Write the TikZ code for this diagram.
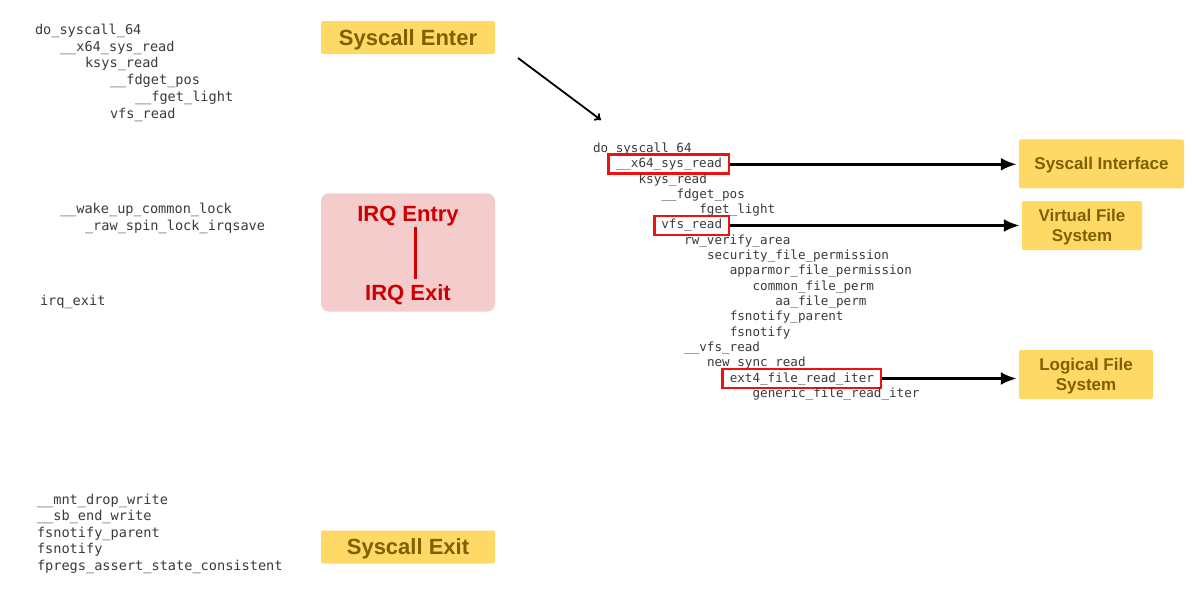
\documentclass[tikz,border=0pt]{standalone}
\usepackage{fontspec}
\setmainfont{Liberation Sans}
\newfontfamily\codefont{DejaVu Sans Mono}
\usepackage{xcolor}
\usetikzlibrary{shapes.geometric, arrows.meta, positioning}

\definecolor{codegray}{HTML}{3A3A3A}
\definecolor{boxyellow}{HTML}{FFD966}
\definecolor{boxbrown}{HTML}{7F6000}
\definecolor{irqpink}{HTML}{F4CCCC}
\definecolor{irqred}{HTML}{CC0000}
\definecolor{hlred}{HTML}{EE1111}

\tikzset{
	code/.style = {anchor=text, inner sep=0pt, text=codegray, font=\codefont\fontsize{13.6}{16}\selectfont},
	coderight/.style = {code, font=\codefont\fontsize{12.6}{15}\selectfont},
	hl/.style = {draw=hlred, line width=2.8pt, inner xsep=7pt, inner ysep=3.5pt, text height=9.5pt, text depth=2.5pt},
	phasebox/.style = {fill=boxyellow, text=boxbrown, font=\bfseries\fontsize{22}{26}\selectfont, minimum width=174pt, minimum height=33pt, rounded corners=2pt, inner sep=0pt, text depth=0pt},
	levelbox/.style = {fill=boxyellow, text=boxbrown, font=\bfseries\fontsize{17}{20}\selectfont, minimum height=49pt, rounded corners=2pt, inner sep=0pt, text depth=0pt, align=center},
	irqbox/.style = {fill=irqpink, minimum width=174pt, minimum height=118.3pt, rounded corners=8pt, inner sep=0pt},
	irqtext/.style = {anchor=base, text=irqred, font=\bfseries\fontsize{22}{26}\selectfont, inner sep=1pt},
	flow/.style = {line width=3pt, -{Latex[length=16pt,width=13pt]}, shorten >=2pt}
}

\begin{document}
\begin{tikzpicture}[x=1pt,y=-1pt]
	\useasboundingbox (0,0) rectangle (1192,591);
	
	% left: trace before the switch
	\node[code] (L1) at (35,34.3) {do\_syscall\_64};
	\node[code] (L2) at (60,51.1) {\_\_x64\_sys\_read};
	\node[code] (L3) at (85,67.9) {ksys\_read};
	\node[code] (L4) at (110,84.7) {\_\_fdget\_pos};
	\node[code] (L5) at (135,101.5) {\_\_fget\_light};
	\node[code] (L6) at (110,118.3) {vfs\_read};
	
	\node[code] (L7) at (60,213.3) {\_\_wake\_up\_common\_lock};
	\node[code] (L8) at (85,230) {\_raw\_spin\_lock\_irqsave};
	\node[code] (L9) at (40,305) {irq\_exit};
	
	\node[code] (L10) at (37,504) {\_\_mnt\_drop\_write};
	\node[code] (L11) at (37,520.5) {\_\_sb\_end\_write};
	\node[code] (L12) at (37,537) {fsnotify\_parent};
	\node[code] (L13) at (37,553.5) {fsnotify};
	\node[code] (L14) at (37,570) {fpregs\_assert\_state\_consistent};
	
	% left: phases
	\node[phasebox] (enter) at (408,37.7) {Syscall Enter};
	\node[irqbox] (irq) at (408,252.5) {};
	\node[irqtext] (IRQin) at (408,221.7) {IRQ Entry};
	\node[irqtext] (IRQout) at (408,300) {IRQ Exit};
	\node[phasebox] (exit) at (408,547) {Syscall Exit};
	
	\draw[irqred, line width=3pt, shorten >=4pt] ([xshift=7pt]IRQin.south) -- ([xshift=7pt]IRQin.south |- IRQout.north);
	
	%%%%%%%%%%%%%%%%%%%%%%%%%%%%%%
	
	% right: full trace
	\node[coderight] (R1) at (593,152.5) {do\_syscall\_64};
	\node[coderight, hl] (R2) at (615.8,167.8) {\_\_x64\_sys\_read};
	\node[coderight] (R3) at (638.6,183.1) {ksys\_read};
	\node[coderight] (R4) at (661.4,198.4) {\_\_fdget\_pos};
	\node[coderight] (R5) at (684.2,213.7) {\_\_fget\_light};
	\node[coderight, hl] (R6) at (661.4,229) {vfs\_read};
	\node[coderight] (R7) at (684.2,244.3) {rw\_verify\_area};
	\node[coderight] (R8) at (707,259.6) {security\_file\_permission};
	\node[coderight] (R9) at (729.8,274.9) {apparmor\_file\_permission};
	\node[coderight] (R10) at (752.6,290.2) {common\_file\_perm};
	\node[coderight] (R11) at (775.4,305.5) {aa\_file\_perm};
	\node[coderight] (R12) at (729.8,320.8) {fsnotify\_parent};
	\node[coderight] (R13) at (729.8,336.1) {fsnotify};
	\node[coderight] (R14) at (684.2,351.4) {\_\_vfs\_read};
	\node[coderight] (R15) at (707,366.7) {new\_sync\_read};
	\node[coderight, hl] (R16) at (729.8,382) {ext4\_file\_read\_iter};
	\node[coderight] (R17) at (752.6,397.3) {generic\_file\_read\_iter};
	
	% right: layers
	\node[levelbox, minimum width=165pt] (SI) at (1101.5,163.8) {Syscall Interface};
	\node[levelbox, minimum width=120pt] (VFS) at (1082,225.5) {Virtual File\\System};
	\node[levelbox, minimum width=134pt] (LFS) at (1086,374.5) {Logical File\\System};
	
	%%%%%%%%%%%%%%%%%%%%%%%%%%%%%%
	
	\coordinate (zoomA) at (518,58);
	\coordinate (zoomB) at (601,120);
	\draw[line width=1.8pt, -{To[length=6pt,width=9pt]}] (zoomA) -- (zoomB);
	
	\draw[flow] (R2.east) -- (R2.east -| SI.west);
	\draw[flow] (R6.east) -- (R6.east -| VFS.west);
	\draw[flow] (R16.east) -- (R16.east -| LFS.west);
	
\end{tikzpicture}
\end{document}
